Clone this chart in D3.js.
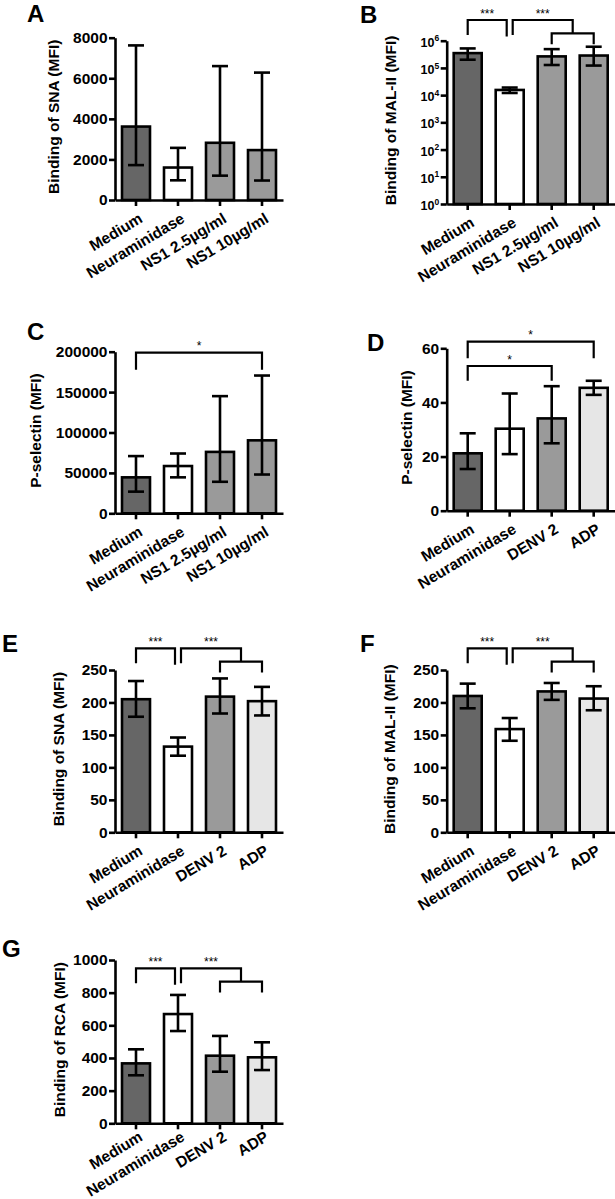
<!DOCTYPE html>
<html><head><meta charset="utf-8">
<script src="https://cdn.jsdelivr.net/npm/d3@7"></script>
<style>body{margin:0;background:#fff} svg{display:block}</style>
</head><body>
<script>
// ---------- DATA ----------
const catsNS1 = ["Medium", "Neuraminidase", "NS1 2.5µg/ml", "NS1 10µg/ml"];
const catsDENV = ["Medium", "Neuraminidase", "DENV 2", "ADP"];
const fillsNS1 = ["#666666", "#ffffff", "#9a9a9a", "#9a9a9a"];
const fillsDENV = ["#666666", "#ffffff", "#9a9a9a", "#e6e6e6"];

// A: Binding of SNA, NS1
const snaNS1Mean = [3620, 1600, 2820, 2460];
const snaNS1Lo   = [1720, 970, 1200, 960];
const snaNS1Hi   = [7620, 2570, 6600, 6280];
const ticksA = [0, 2000, 4000, 6000, 8000];

// B: Binding of MAL-II, NS1 (log scale)
const malNS1Mean = [350000, 15500, 265000, 285000];
const malNS1Lo   = [200000, 12000, 128000, 122000];
const malNS1Hi   = [520000, 19000, 490000, 600000];
const ticksB = [1, 10, 100, 1000, 10000, 100000, 1000000];

// C: P-selectin, NS1
const pselNS1Mean = [44500, 58500, 76000, 90300];
const pselNS1Lo   = [26800, 44500, 39000, 48000];
const pselNS1Hi   = [70800, 74000, 145000, 170500];
const ticksC = [0, 50000, 100000, 150000, 200000];

// D: P-selectin, DENV
const pselDENVMean = [21.2, 30.3, 34.1, 45.4];
const pselDENVLo   = [15.4, 20.9, 24.9, 42.8];
const pselDENVHi   = [28.6, 43.3, 46.0, 48.0];
const ticksD = [0, 20, 40, 60];

// E: Binding of SNA, DENV
const snaDENVMean = [205, 132, 209, 202];
const snaDENVLo   = [178, 118, 183, 180];
const snaDENVHi   = [233, 146, 237, 224];
const ticksE = [0, 50, 100, 150, 200, 250];

// F: Binding of MAL-II, DENV
const malDENVMean = [210, 159, 217, 206];
const malDENVLo   = [191, 141, 204, 188];
const malDENVHi   = [229, 176, 230, 225];
const ticksF = [0, 50, 100, 150, 200, 250];

// G: Binding of RCA, DENV
const rcaDENVMean = [367, 669, 414, 404];
const rcaDENVLo   = [294, 565, 316, 326];
const rcaDENVHi   = [453, 786, 535, 496];
const ticksG = [0, 200, 400, 600, 800, 1000];

// significance comparisons (category indices)
const sigA = [];
const sigB = [[0, 1, "***"], [1, [2, 3], "***"]];
const sigC = [[0, 3, "*"]];
const sigD = [[0, 3, "*"], [0, 2, "*"]];
const sigE = [[0, 1, "***"], [1, [2, 3], "***"]];
const sigF = [[0, 1, "***"], [1, [2, 3], "***"]];
const sigG = [[0, 1, "***"], [1, [2, 3], "***"]];

// ---------- DRAW ----------
const W = 615, H = 1199;
const FONT = "'Liberation Sans', Arial, Helvetica, sans-serif";
const svg = d3.select("body").append("svg")
  .attr("width", W).attr("height", H)
  .style("font-family", FONT);

const LW = 2.6;
const TICK_FS = 15.5, YLAB_FS = 15.5, XLAB_FS = 15.5;

const panels = [
  {letter: "A", lx: 27, ly: 22, x0: 115, top: 37.7, bot: 200, cats: catsNS1, fills: fillsNS1,
   mean: snaNS1Mean, lo: snaNS1Lo, hi: snaNS1Hi, log: false, domain: [0, 8000], ticks: ticksA,
   ylabel: "Binding of SNA (MFI)", ylx: 59, sig: sigA, split: false, sigOff: [], legs: [], xlOff: 12},
  {letter: "B", lx: 360, ly: 23, x0: 446.7, top: 40.7, bot: 204, cats: catsNS1, fills: fillsNS1,
   mean: malNS1Mean, lo: malNS1Lo, hi: malNS1Hi, log: true, domain: [1, 1000000], ticks: ticksB,
   ylabel: "Binding of MAL-II (MFI)", ylx: 396, sig: sigB, split: true, sigOff: -20.7, xlOff: 12},
  {letter: "C", lx: 27, ly: 340, x0: 115, top: 351.7, bot: 513.3, cats: catsNS1, fills: fillsNS1,
   mean: pselNS1Mean, lo: pselNS1Lo, hi: pselNS1Hi, log: false, domain: [0, 200000], ticks: ticksC,
   ylabel: "P-selectin (MFI)", ylx: 41, sig: sigC, split: false, sigOff: [1], legs: [17], xlOff: 12},
  {letter: "D", lx: 367, ly: 351, x0: 446.7, top: 348.3, bot: 510.7, cats: catsDENV, fills: fillsDENV,
   mean: pselDENVMean, lo: pselDENVLo, hi: pselDENVHi, log: false, domain: [0, 60], ticks: ticksD,
   ylabel: "P-selectin (MFI)", ylx: 412, sig: sigD, split: false, sigOff: [-6.6, 17.7], legs: [16.6, 14.7], xlOff: 12},
  {letter: "E", lx: 2, ly: 652, x0: 115, top: 670, bot: 832.3, cats: catsDENV, fills: fillsDENV,
   mean: snaDENVMean, lo: snaDENVLo, hi: snaDENVHi, log: false, domain: [0, 250], ticks: ticksE,
   ylabel: "Binding of SNA (MFI)", ylx: 63.5, sig: sigE, split: true, sigOff: -21.7, xlOff: 12},
  {letter: "F", lx: 360, ly: 652, x0: 446.7, top: 670, bot: 832.3, cats: catsDENV, fills: fillsDENV,
   mean: malDENVMean, lo: malDENVLo, hi: malDENVHi, log: false, domain: [0, 250], ticks: ticksF,
   ylabel: "Binding of MAL-II (MFI)", ylx: 395, sig: sigF, split: true, sigOff: -21.7, xlOff: 12},
  {letter: "G", lx: 2, ly: 957, x0: 115, top: 960, bot: 1123.3, cats: catsDENV, fills: fillsDENV,
   mean: rcaDENVMean, lo: rcaDENVLo, hi: rcaDENVHi, log: false, domain: [0, 1000], ticks: ticksG,
   ylabel: "Binding of RCA (MFI)", ylx: 65, sig: sigG, split: true, sigOff: 8.3, xlOff: 7}
];

function drawPanel(p) {
  const g = svg.append("g");
  const x = d3.scaleBand().domain(p.cats).range([p.x0, p.x0 + 168])
    .paddingInner(1 / 3).paddingOuter(1 / 6);
  const y = (p.log ? d3.scaleLog() : d3.scaleLinear()).domain(p.domain).range([p.bot, p.top]);
  const cx = i => x(p.cats[i]) + x.bandwidth() / 2;

  // panel letter
  g.append("text").attr("x", p.lx).attr("y", p.ly).text(p.letter)
    .style("font-size", "24px").style("font-weight", "bold");

  // bars
  g.selectAll("rect.bar").data(p.cats).join("rect").attr("class", "bar")
    .attr("x", d => x(d)).attr("width", x.bandwidth())
    .attr("y", (d, i) => y(p.mean[i]))
    .attr("height", (d, i) => y(p.domain[0]) - y(p.mean[i]))
    .attr("fill", (d, i) => p.fills[i])
    .attr("stroke", "#000").attr("stroke-width", LW);

  // error bars
  const eb = g.selectAll("g.eb").data(p.cats).join("g").attr("class", "eb")
    .attr("stroke", "#000").attr("stroke-width", LW).attr("fill", "none");
  eb.append("line").attr("x1", (d, i) => cx(i)).attr("x2", (d, i) => cx(i))
    .attr("y1", (d, i) => y(p.lo[i])).attr("y2", (d, i) => y(p.hi[i]));
  eb.append("line").attr("x1", (d, i) => cx(i) - 8).attr("x2", (d, i) => cx(i) + 8)
    .attr("y1", (d, i) => y(p.hi[i])).attr("y2", (d, i) => y(p.hi[i]));
  eb.append("line").attr("x1", (d, i) => cx(i) - 8).attr("x2", (d, i) => cx(i) + 8)
    .attr("y1", (d, i) => y(p.lo[i])).attr("y2", (d, i) => y(p.lo[i]));

  // y axis
  const ya = d3.axisLeft(y).tickValues(p.ticks).tickSize(6).tickPadding(1.5).tickSizeOuter(0)
    .tickFormat(d => p.log ? "" : d3.format("d")(d));
  const yg = g.append("g").attr("transform", `translate(${p.x0},0)`).call(ya)
    .attr("font-size", null).attr("font-family", null);
  yg.selectAll("path,line").attr("stroke", "#000").attr("stroke-width", LW);
  yg.selectAll(".tick text").attr("fill", "#000")
    .style("font-size", TICK_FS + "px").style("font-weight", "bold");
  if (p.log) {
    yg.selectAll(".tick text").each(function (d) {
      const t = d3.select(this);
      t.text(null).style("font-size", "12.5px").attr("dy", "0.45em");
      t.append("tspan").text("10");
      t.append("tspan").attr("dy", -5.5).style("font-size", "8.5px").text(Math.round(Math.log10(d)));
    });
  }

  // x axis
  const xa = d3.axisBottom(x).tickSize(6).tickSizeOuter(0);
  const xg = g.append("g").attr("transform", `translate(0,${p.bot})`).call(xa)
    .attr("font-size", null).attr("font-family", null);
  xg.selectAll("path,line").attr("stroke", "#000").attr("stroke-width", LW);
  xg.selectAll(".tick text").attr("fill", "#000")
    .attr("x", 0).attr("y", 0).attr("dy", "0.71em")
    .attr("text-anchor", "end")
    .attr("transform", `translate(2,${p.xlOff}) rotate(-31)`)
    .style("font-size", XLAB_FS + "px").style("font-weight", "bold");

  // y label
  g.append("text")
    .attr("transform", `translate(${p.ylx},${(p.top + p.bot) / 2 - 2}) rotate(-90)`)
    .attr("text-anchor", "middle").text(p.ylabel)
    .style("font-size", YLAB_FS + "px").style("font-weight", "bold");

  // significance brackets
  const bg = g.append("g").attr("stroke", "#000").attr("stroke-width", 2.2).attr("fill", "none");
  const star = (xx, yy, s) => g.append("text").attr("x", xx).attr("y", yy).attr("text-anchor", "middle")
    .text(s).style("font-size", "12px");
  if (p.split) {
    const yb = p.top + p.sigOff;
    const [s1, s2] = p.sig;
    const a = cx(s1[0]), b = cx(s1[1]) - 3;
    bg.append("path").attr("d", `M${a},${yb + 15}V${yb}H${b}V${yb + 16.5}`);
    star((a + b) / 2, yb - 2.5, s1[2]);
    const c0 = cx(s2[0]) + 3;
    const l = cx(s2[1][0]), r = cx(s2[1][1]);
    const m = (l + r) / 2;
    const yl = yb + 13.3;
    bg.append("path").attr("d", `M${c0},${yb + 15}V${yb}H${m}V${yl}`);
    bg.append("path").attr("d", `M${l},${yl + 11}V${yl}H${r}V${yl + 11}`);
    star((c0 + m) / 2, yb - 2.5, s2[2]);
  } else {
    p.sig.forEach((s, k) => {
      const yb = p.top + p.sigOff[k];
      const a = cx(s[0]), b = cx(s[1]);
      bg.append("path").attr("d", `M${a},${yb + p.legs[k]}V${yb}H${b}V${yb + p.legs[k]}`);
      star((a + b) / 2, yb - 2.5, s[2]);
    });
  }
}

panels.forEach(drawPanel);
</script>
</body></html>
